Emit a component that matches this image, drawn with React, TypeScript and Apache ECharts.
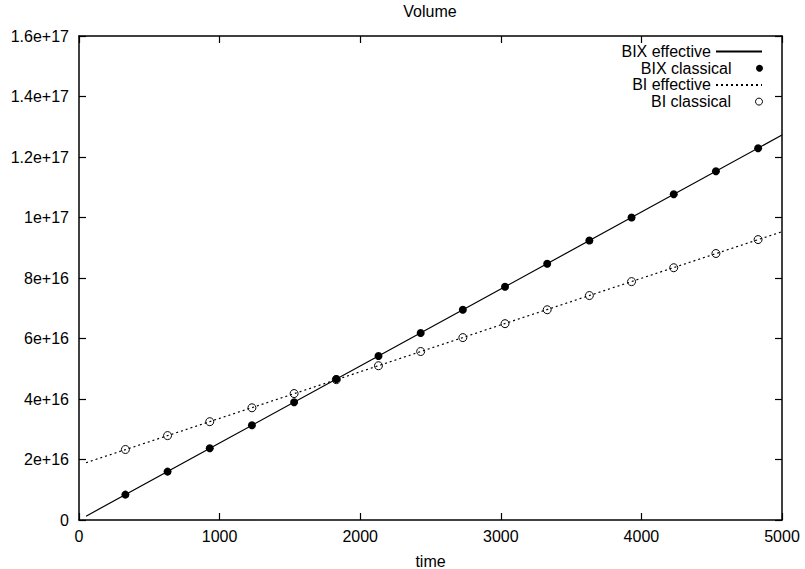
import React, { useEffect, useRef } from "react";
import * as echarts from "echarts";

const FONT = "'Liberation Sans', Arial, Helvetica, sans-serif";
const FS = 16;

// time values of the classical sample points
const sampleTimes = [330, 630, 930, 1230, 1530, 1830, 2130, 2430, 2730, 3030, 3330, 3630, 3930, 4230, 4530, 4830];
// BIX classical volume (units of 1e16)
const bixClassical = [0.84, 1.60, 2.37, 3.13, 3.89, 4.66, 5.42, 6.18, 6.95, 7.71, 8.47, 9.24, 10.00, 10.77, 11.53, 12.29];
// BI classical volume (units of 1e16)
const biClassical = [2.33, 2.79, 3.25, 3.71, 4.18, 4.64, 5.10, 5.57, 6.03, 6.49, 6.95, 7.42, 7.88, 8.34, 8.81, 9.27];
// effective curves
const effTimes = [50, 1000, 2000, 3000, 4000, 5000];
const bixEffective = [0.127, 2.545, 5.09, 7.635, 10.18, 12.725];
const biEffective = [1.894, 3.36, 4.90, 6.45, 7.99, 9.53];

// axis ranges
const X_MIN = 0;
const X_MAX = 5000;
const Y_MIN = 0;
const Y_MAX = 1.6e17;

const seriesNames = ["BIX effective", "BIX classical", "BI effective", "BI classical"];
const SCALE = 1e16;

const pairs = (xs: number[], ys: number[]) => xs.map((x, i) => [x, ys[i] * SCALE]);

function fmtY(v: number): string {
  if (v === 0) return "0";
  return Number(v.toPrecision(3)).toExponential();
}

export default function App() {
  const ref = useRef<HTMLDivElement>(null);
  useEffect(() => {
    if (!ref.current) return;
    const chart = echarts.init(ref.current, undefined, { renderer: "svg" });
    const isLine = (i: number) => i === 0 || i === 2;
    const legendItemStyle = (i: number) =>
      isLine(i)
        ? { color: "transparent", borderWidth: 0, opacity: 0 }
        : i === 3
        ? { color: "#fff", borderColor: "#000", borderWidth: 1 }
        : { color: "#000" };
    const axisLine = () => ({ show: true, onZero: false, lineStyle: { color: "#000", width: 1.5 } });
    const axisTick = () => ({ show: true, inside: true, length: 7, lineStyle: { color: "#000", width: 1.2 } });
    chart.setOption({
      animation: false,
      title: {
        text: "Volume",
        left: 430,
        textAlign: "center",
        top: 3,
        padding: 0,
        textStyle: { fontSize: FS, fontWeight: "normal", color: "#000", fontFamily: FONT },
      },
      grid: { left: 79, right: 23, top: 36, bottom: 49, containLabel: false, outerBoundsMode: "none" },
      legend: seriesNames.map((n, i) => ({
        data: [n],
        orient: "vertical",
        align: "right",
        right: 42,
        top: 43.5 + i * 16.7,
        padding: 0,
        itemWidth: 46,
        itemHeight: 7,
        selectedMode: false,
        itemStyle: legendItemStyle(i),
        textStyle: { color: "#000", fontSize: FS, fontFamily: FONT },
      })),
      xAxis: [
        {
          type: "value",
          min: X_MIN,
          max: X_MAX,
          interval: 1000,
          name: "time",
          nameLocation: "middle",
          nameGap: 33,
          nameTextStyle: { color: "#000", fontSize: FS, fontFamily: FONT },
          axisLine: axisLine(),
          axisTick: axisTick(),
          axisLabel: { color: "#000", fontSize: FS, fontFamily: FONT, margin: 8, formatter: (v: number) => String(v) },
          splitLine: { show: false },
        },
        {
          type: "value",
          position: "top",
          min: X_MIN,
          max: X_MAX,
          interval: 1000,
          axisLine: axisLine(),
          axisTick: axisTick(),
          axisLabel: { show: false },
          splitLine: { show: false },
        },
      ],
      yAxis: [
        {
          type: "value",
          min: Y_MIN,
          max: Y_MAX,
          interval: 2e16,
          axisLine: axisLine(),
          axisTick: axisTick(),
          axisLabel: { color: "#000", fontSize: FS, fontFamily: FONT, margin: 10, formatter: fmtY },
          splitLine: { show: false },
        },
        {
          type: "value",
          position: "right",
          min: Y_MIN,
          max: Y_MAX,
          interval: 2e16,
          axisLine: axisLine(),
          axisTick: axisTick(),
          axisLabel: { show: false },
          splitLine: { show: false },
        },
      ],
      series: [
        {
          name: seriesNames[0],
          type: "line",
          clip: false,
          data: pairs(effTimes, bixEffective),
          symbol: "none",
          lineStyle: { color: "#000", width: 1.2, type: "solid" },
          itemStyle: { color: "#000" },
        },
        {
          name: seriesNames[1],
          type: "scatter",
          clip: false,
          data: pairs(sampleTimes, bixClassical),
          symbol: "circle",
          symbolSize: 8,
          itemStyle: { color: "#000", opacity: 1 },
        },
        {
          name: seriesNames[2],
          type: "line",
          clip: false,
          xAxisIndex: 1,
          yAxisIndex: 1,
          data: pairs(effTimes, biEffective),
          symbol: "none",
          lineStyle: { color: "#000", width: 1.2, type: [2, 3] },
          itemStyle: { color: "#000" },
        },
        {
          name: seriesNames[3],
          type: "scatter",
          clip: false,
          xAxisIndex: 1,
          yAxisIndex: 1,
          data: pairs(sampleTimes, biClassical),
          symbol: "circle",
          symbolSize: 8,
          itemStyle: { color: "transparent", borderColor: "#000", borderWidth: 1, opacity: 1 },
        },
      ],
    });
    return () => chart.dispose();
  }, []);
  return <div ref={ref} style={{ width: 805, height: 569, position: "absolute", left: 0, top: 0, background: "#fff" }} />;
}
